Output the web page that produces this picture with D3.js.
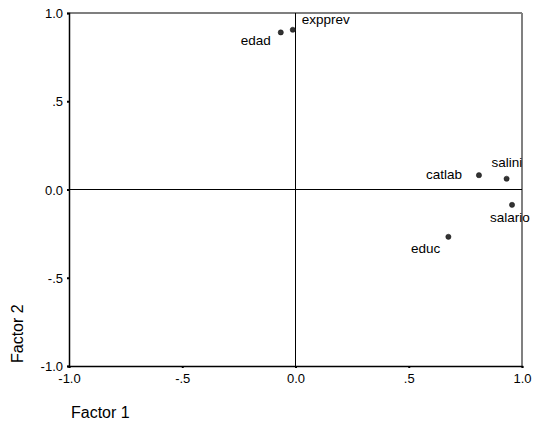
<!DOCTYPE html>
<html>
<head>
<meta charset="utf-8">
<script src="https://cdn.jsdelivr.net/npm/d3@7"></script>
<style>
body { margin: 0; background: #fff; }
text { font-family: "Liberation Sans", Arial, sans-serif; fill: #000; }
</style>
</head>
<body>
<script>
// variable names and their loadings on the two factors
var names = ["edad", "expprev", "catlab", "salini", "salario", "educ"];
var factor1 = [-0.065, -0.012, 0.81, 0.932, 0.956, 0.675];
var factor2 = [0.89, 0.905, 0.081, 0.061, -0.087, -0.268];
var tickValues = [-1, -0.5, 0, 0.5, 1];
var tickLabels = ["-1.0", "-.5", "0.0", ".5", "1.0"];

// label placement for each point: dx, dy, anchor
var labelPos = {
	edad: [-10, 13, "end"],
	expprev: [9, -6, "start"],
	catlab: [-17, 4, "end"],
	salini: [-15, -12, "start"],
	salario: [-22, 17, "start"],
	educ: [-8, 16, "end"]
};

var W = 533, H = 429;
var mLeft = 69, mRight = 522, mTop = 13, mBottom = 366;

var svg = d3.select("body").append("svg")
	.attr("width", W)
	.attr("height", H);

var x = d3.scaleLinear().domain([-1, 1]).range([mLeft, mRight]);
var y = d3.scaleLinear().domain([-1, 1]).range([mBottom, mTop]);

var data = names.map((n, i) => ({name: n, f1: factor1[i], f2: factor2[i]}));

// frame: top black, right grey
svg.append("line")
	.attr("x1", mLeft).attr("x2", mRight)
	.attr("y1", mTop).attr("y2", mTop)
	.attr("stroke", "#000").attr("stroke-width", 1.2);
svg.append("line")
	.attr("x1", mRight).attr("x2", mRight)
	.attr("y1", mTop).attr("y2", mBottom)
	.attr("stroke", "#808080").attr("stroke-width", 2);

// zero reference lines
svg.append("line")
	.attr("x1", x(0)).attr("x2", x(0))
	.attr("y1", mTop).attr("y2", mBottom)
	.attr("stroke", "#000").attr("stroke-width", 1);
svg.append("line")
	.attr("x1", mLeft).attr("x2", mRight)
	.attr("y1", y(0)).attr("y2", y(0))
	.attr("stroke", "#000").attr("stroke-width", 1);

var xAxis = svg.append("g")
	.attr("transform", "translate(0," + mBottom + ")")
	.call(d3.axisBottom(x).tickValues(tickValues)
		.tickFormat((d, i) => tickLabels[i])
		.tickSize(2).tickPadding(6));

var yAxis = svg.append("g")
	.attr("transform", "translate(" + mLeft + ",0)")
	.call(d3.axisLeft(y).tickValues(tickValues)
		.tickFormat((d, i) => tickLabels[i])
		.tickSize(2).tickPadding(4));

[xAxis, yAxis].forEach(function(a) {
	a.attr("font-size", 13).attr("font-family", null);
	a.select(".domain").attr("stroke", "#000").attr("stroke-width", 1.5);
	a.selectAll(".tick line").attr("stroke", "#000").attr("stroke-width", 2);
	a.selectAll(".tick text").attr("fill", "#000");
});
yAxis.selectAll(".tick text").attr("dy", "0.36em");

// points
svg.selectAll("circle.pt").data(data).enter()
	.append("circle")
	.attr("class", "pt")
	.attr("cx", d => x(d.f1))
	.attr("cy", d => y(d.f2))
	.attr("r", 2.6)
	.attr("fill", "#333")
	.attr("stroke", "#111")
	.attr("stroke-width", 0.5);

svg.selectAll("text.lbl").data(data).enter()
	.append("text")
	.attr("class", "lbl")
	.attr("x", d => x(d.f1) + labelPos[d.name][0])
	.attr("y", d => y(d.f2) + labelPos[d.name][1])
	.attr("text-anchor", d => labelPos[d.name][2])
	.attr("font-size", 13.5)
	.text(d => d.name);

// axis titles
svg.append("text")
	.attr("x", 71)
	.attr("y", 418)
	.attr("font-size", 16)
	.text("Factor 1");

svg.append("text")
	.attr("transform", "translate(23,363) rotate(-90)")
	.attr("font-size", 16)
	.text("Factor 2");
</script>
</body>
</html>
